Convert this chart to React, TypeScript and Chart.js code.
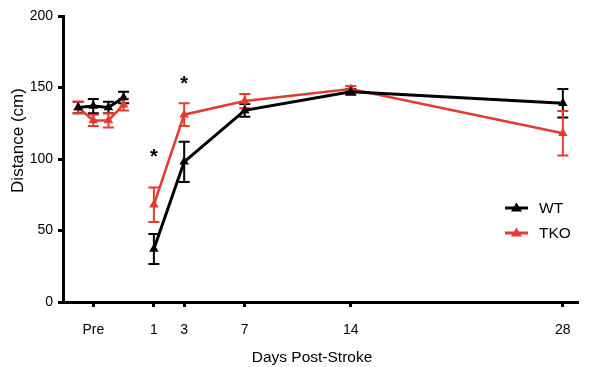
import React, { useEffect, useRef } from "react";
import { Chart, registerables } from "chart.js";

Chart.register(...registerables);

const days = [-4, -3, -2, -1, 1, 3, 7, 14, 28];
const wtMean = [136, 137, 136, 143, 37, 98, 134, 147, 139];
const wtErr = [4, 5, 4, 4, 10.5, 14, 4.5, 2, 10];
const tkoMean = [136, 127, 127, 138, 68, 131, 140.5, 149, 118];
const tkoErr = [4, 4, 5, 4, 12, 8, 5, 2, 15.5];
const xTickValues = [-3, 1, 3, 7, 14, 28];
const xTickLabels = ["Pre", "1", "3", "7", "14", "28"];
const yTickValues = [0, 50, 100, 150, 200];
const sigDays = [1, 3];
const sigValues = [104, 155];
const seriesNames = ["WT", "TKO"];
const xTitle = "Days Post-Stroke";
const yTitle = "Distance (cm)";

const BLACK = "#000000";
const RED = "#e23c32";
const FONT = "'Liberation Sans', Arial, Helvetica, sans-serif";

export default function App() {
  const ref = useRef<HTMLCanvasElement | null>(null);

  useEffect(() => {
    document.body.style.margin = "0";
    const canvas = ref.current;
    if (!canvas) return;

    const errors = [wtErr, tkoErr];

    const errorBarPlugin = {
      id: "errorBars",
      beforeDatasetsDraw(chart: any) {
        const ctx = chart.ctx;
        const xs = chart.scales.x;
        const ys = chart.scales.y;
        chart.data.datasets.forEach((ds: any, i: number) => {
          const err = errors[i];
          ctx.save();
          ctx.strokeStyle = ds.borderColor;
          ctx.lineWidth = 2;
          ds.data.forEach((p: any, j: number) => {
            const x = xs.getPixelForValue(p.x);
            const yTop = ys.getPixelForValue(p.y + err[j]);
            const yBot = ys.getPixelForValue(p.y - err[j]);
            ctx.beginPath();
            ctx.moveTo(x, yTop);
            ctx.lineTo(x, yBot);
            ctx.moveTo(x - 5.5, yTop);
            ctx.lineTo(x + 5.5, yTop);
            ctx.moveTo(x - 5.5, yBot);
            ctx.lineTo(x + 5.5, yBot);
            ctx.stroke();
          });
          ctx.restore();
        });
      },
      afterDatasetsDraw(chart: any) {
        const ctx = chart.ctx;
        const xs = chart.scales.x;
        const ys = chart.scales.y;
        ctx.save();
        ctx.fillStyle = BLACK;
        ctx.font = `bold 20px ${FONT}`;
        ctx.textAlign = "center";
        ctx.textBaseline = "middle";
        sigDays.forEach((d, k) => {
          ctx.fillText("*", xs.getPixelForValue(d), ys.getPixelForValue(sigValues[k]) + 4);
        });
        ctx.restore();

        // legend
        ctx.save();
        chart.data.datasets.forEach((ds: any, i: number) => {
          const y = 208 + i * 25;
          ctx.strokeStyle = ds.borderColor;
          ctx.fillStyle = ds.borderColor;
          ctx.lineWidth = 3;
          ctx.beginPath();
          ctx.moveTo(505, y);
          ctx.lineTo(528, y);
          ctx.stroke();
          ctx.beginPath();
          ctx.moveTo(516.5, y - 5.5);
          ctx.lineTo(522, y + 3.5);
          ctx.lineTo(511, y + 3.5);
          ctx.closePath();
          ctx.fill();
          ctx.fillStyle = BLACK;
          ctx.font = `15.5px ${FONT}`;
          ctx.textAlign = "left";
          ctx.textBaseline = "middle";
          ctx.fillText(ds.label, 539, y + 1);
        });
        ctx.restore();

        // axis titles
        ctx.save();
        ctx.fillStyle = BLACK;
        ctx.font = `15.5px ${FONT}`;
        ctx.textAlign = "center";
        ctx.textBaseline = "alphabetic";
        ctx.fillText(xTitle, 312, 362);
        ctx.translate(22.5, 140.5);
        ctx.rotate(-Math.PI / 2);
        ctx.font = `17px ${FONT}`;
        ctx.fillText(yTitle, 0, 0);
        ctx.restore();
      },
    };

    const gapSegment = {
      borderColor: (c: any) =>
        c.p0.parsed.x < 0 && c.p1.parsed.x > 0 ? "rgba(0,0,0,0)" : undefined,
    };

    const chart = new Chart(canvas, {
      type: "line",
      data: {
        datasets: [
          {
            label: seriesNames[0],
            data: days.map((d, i) => ({ x: d, y: wtMean[i] })),
            borderColor: BLACK,
            backgroundColor: BLACK,
            borderWidth: 3,
            pointStyle: "triangle",
            pointRadius: 5.5,
            pointBorderWidth: 0,
            tension: 0,
            segment: gapSegment,
          },
          {
            label: seriesNames[1],
            data: days.map((d, i) => ({ x: d, y: tkoMean[i] })),
            borderColor: RED,
            backgroundColor: RED,
            borderWidth: 2.5,
            pointStyle: "triangle",
            pointRadius: 5.5,
            pointBorderWidth: 0,
            tension: 0,
            segment: gapSegment,
          },
        ],
      },
      options: {
        responsive: false,
        animation: false,
        layout: { padding: { top: 16, right: 14, left: 0, bottom: 0 } },
        plugins: { legend: { display: false }, tooltip: { enabled: false } },
        scales: {
          x: {
            type: "linear",
            min: -5,
            max: 29,
            afterFit(scale: any) {
              scale.height = 65;
            },
            afterBuildTicks(scale: any) {
              scale.ticks = xTickValues.map((v) => ({ value: v }));
            },
            ticks: {
              color: BLACK,
              font: { family: FONT, size: 14 },
              padding: 15,
              maxRotation: 0,
              callback: (v: any) => {
                const k = xTickValues.indexOf(Number(v));
                return k >= 0 ? xTickLabels[k] : "";
              },
            },
            grid: {
              display: true,
              drawOnChartArea: false,
              drawTicks: true,
              tickLength: 5,
              tickWidth: 3,
              tickColor: BLACK,
            },
            border: { display: true, width: 3, color: BLACK },
            title: { display: false },
          },
          y: {
            type: "linear",
            min: 0,
            max: 200,
            afterFit(scale: any) {
              scale.width = 63;
            },
            afterBuildTicks(scale: any) {
              scale.ticks = yTickValues.map((v) => ({ value: v }));
            },
            ticks: {
              color: BLACK,
              font: { family: FONT, size: 14 },
              padding: 5,
            },
            grid: {
              display: true,
              drawOnChartArea: false,
              drawTicks: true,
              tickLength: 5,
              tickWidth: 3,
              tickColor: BLACK,
            },
            border: { display: true, width: 3, color: BLACK },
            title: { display: false },
          },
        },
      },
      plugins: [errorBarPlugin],
    } as any);

    return () => chart.destroy();
  }, []);

  return (
    <div style={{ width: 592, height: 367 }}>
      <canvas ref={ref} width={592} height={367} style={{ display: "block" }} />
    </div>
  );
}
